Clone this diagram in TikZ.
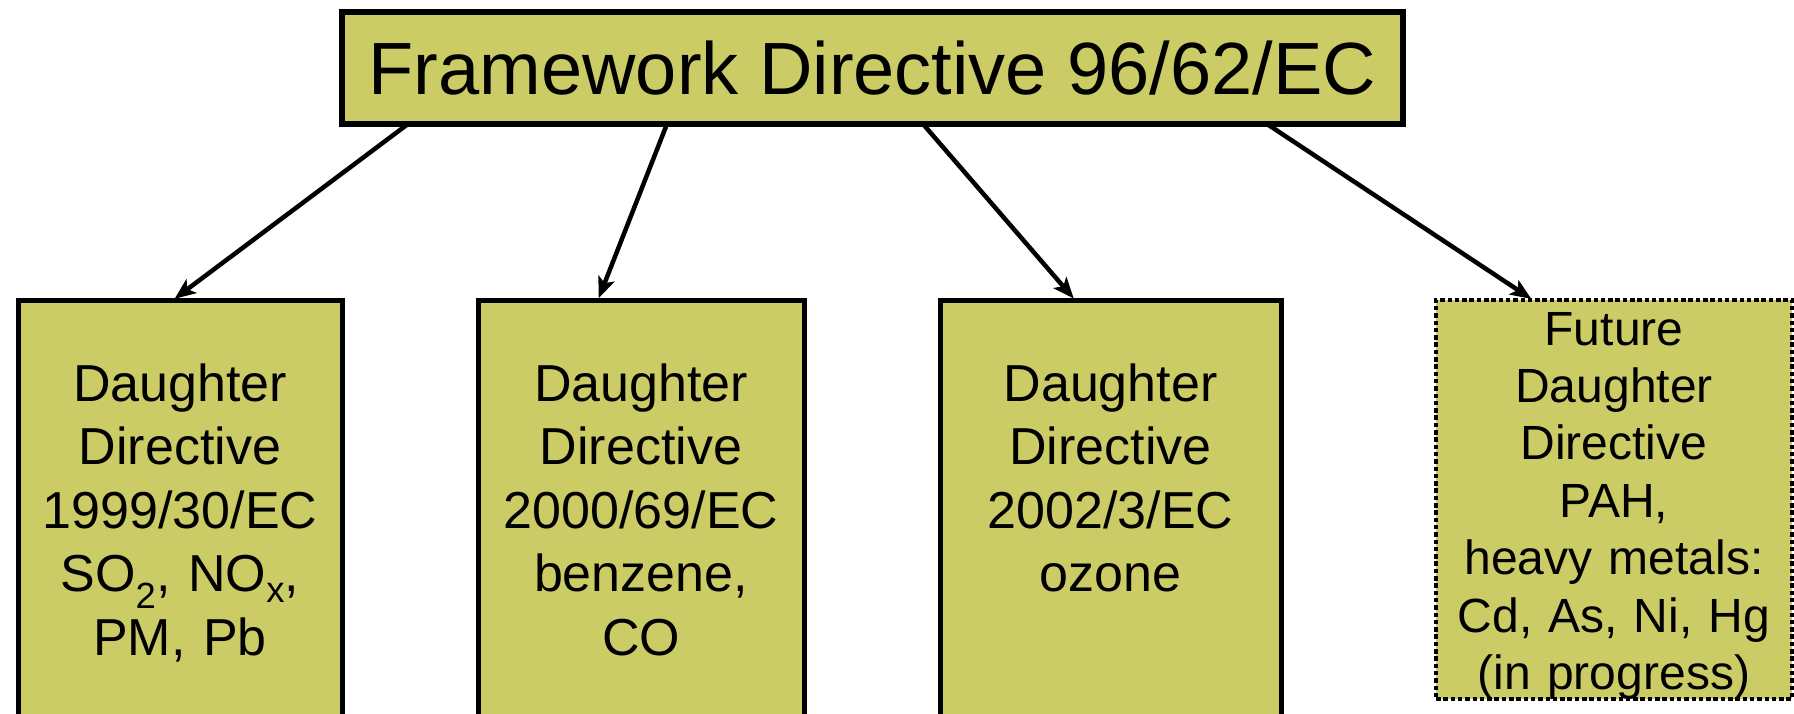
\documentclass[tikz,border=0pt]{standalone}
\usepackage{fontspec}
\setmainfont{Liberation Sans}
\usetikzlibrary{arrows.meta}
\definecolor{olivebox}{RGB}{204,204,102}
\begin{document}
\begin{tikzpicture}[x=1pt,y=-1pt,
  every node/.style={inner sep=0pt, outer sep=0pt},
  boxbase/.style={draw=black, fill=olivebox, rectangle, anchor=north west, align=center},
  topbox/.style={boxbase, line width=6.5pt, font=\fontsize{74}{74}\selectfont, minimum width=1061pt, minimum height=112pt},
  daughter/.style={boxbase, line width=5pt, font=\fontsize{52}{63.5}\selectfont, text height=101pt, text depth=350pt},
  future/.style={boxbase, line width=4.5pt, dash pattern=on 4.5pt off 2.8pt, font=\fontsize{48}{57.4}\selectfont, text height=45pt, text depth=354pt},
  link/.style={line width=4.5pt, shorten >=2pt, -{Stealth[length=21pt,width=17pt,inset=5pt]}}
]
\useasboundingbox (0,0) rectangle (1794,714);
\clip (0,0) rectangle (1794,714);

\node[topbox] (top) at (342,12) {Framework Directive 96/62/EC};

\node[daughter, text width=324pt] (d1) at (18,300)
  {Daughter\\ Directive\\ 1999/30/EC\\ SO\textsubscript{2}, NO\textsubscript{x},\\ PM, Pb};
\node[daughter, text width=326pt] (d2) at (478,300)
  {Daughter\\ Directive\\ 2000/69/EC\\ benzene,\\ CO};
\node[daughter, text width=341pt] (d3) at (940,300)
  {Daughter\\ Directive\\ 2002/3/EC\\ ozone};
\node[future, text width=356pt] (d4) at (1436,300)
  {Future\\ Daughter\\ Directive\\ PAH,\\ heavy metals:\\ Cd, As, Ni, Hg\\ (in progress)};

\draw[link] ([xshift=66pt]top.south west) -- ([xshift=155pt]d1.north west);
\draw[link] ([xshift=325pt]top.south west) -- ([xshift=120pt]d2.north west);
\draw[link] ([xshift=581pt]top.south west) -- ([xshift=135pt]d3.north west);
\draw[link] ([xshift=925pt]top.south west) -- ([xshift=97pt]d4.north west);
\end{tikzpicture}
\end{document}
